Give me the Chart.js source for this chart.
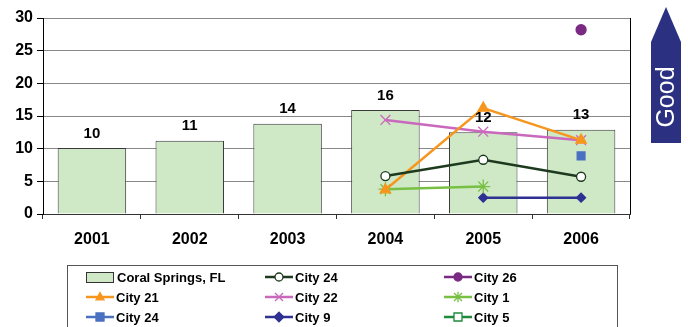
<!DOCTYPE html>
<html>
<head>
<meta charset="utf-8">
<script src="https://cdn.jsdelivr.net/npm/chart.js@4.4.0/dist/chart.umd.min.js"></script>
<style>
  html, body { margin: 0; padding: 0; background: #fff; }
  #wrap { width: 688px; height: 327px; }
</style>
</head>
<body>
<div id="wrap"><canvas id="myChart" width="688" height="327"></canvas></div>
<script>
// chart data
var years = ["2001", "2002", "2003", "2004", "2005", "2006"];
var coralSprings = [10.1, 11.2, 13.8, 15.9, 12.5, 12.9];
var coralLabels = ["10", "11", "14", "16", "12", "13"];
var city24 = [null, null, null, 5.8, 8.3, 5.7];
var city26 = [null, null, null, null, null, 28.2];
var city21 = [null, null, null, 3.7, 16.2, 11.3];
var city22 = [null, null, null, 14.4, 12.6, 11.3];
var city1 = [null, null, null, 3.8, 4.2, null];
var city24b = [null, null, null, null, null, 8.9];
var city9 = [null, null, null, null, 2.5, 2.5];
var city5 = [null, null, null, null, null, null];
var yTicks = [0, 5, 10, 15, 20, 25, 30];

var FONT = "'Liberation Sans', Arial, sans-serif";

function lineSet(label, data, color, style, radius, fill) {
  return {
    type: "line",
    label: label,
    data: data,
    borderColor: color,
    backgroundColor: color,
    borderWidth: 2.5,
    pointStyle: style,
    pointRadius: radius,
    pointBorderColor: color,
    pointBackgroundColor: fill || color,
    pointBorderWidth: 1.3,
    spanGaps: false,
    order: 1
  };
}

// small point drawer for the legend
function drawSymbol(ctx, style, x, y, r, stroke, fill) {
  ctx.save();
  ctx.strokeStyle = stroke;
  ctx.fillStyle = fill;
  ctx.lineWidth = 1.3;
  ctx.beginPath();
  if (style === "circle") {
    ctx.arc(x, y, r, 0, Math.PI * 2);
    ctx.fill(); ctx.stroke();
  } else if (style === "triangle") {
    ctx.moveTo(x, y - r * 1.1);
    ctx.lineTo(x + r, y + r * 0.7);
    ctx.lineTo(x - r, y + r * 0.7);
    ctx.closePath();
    ctx.fill(); ctx.stroke();
  } else if (style === "rect") {
    ctx.rect(x - r, y - r, r * 2, r * 2);
    ctx.fill(); ctx.stroke();
  } else if (style === "rectRot") {
    ctx.moveTo(x, y - r * 1.2);
    ctx.lineTo(x + r * 1.2, y);
    ctx.lineTo(x, y + r * 1.2);
    ctx.lineTo(x - r * 1.2, y);
    ctx.closePath();
    ctx.fill(); ctx.stroke();
  } else if (style === "crossRot") {
    ctx.moveTo(x - r, y - r); ctx.lineTo(x + r, y + r);
    ctx.moveTo(x + r, y - r); ctx.lineTo(x - r, y + r);
    ctx.stroke();
  } else if (style === "star") {
    ctx.moveTo(x - r, y - r); ctx.lineTo(x + r, y + r);
    ctx.moveTo(x + r, y - r); ctx.lineTo(x - r, y + r);
    ctx.moveTo(x, y - r * 1.3); ctx.lineTo(x, y + r * 1.3);
    ctx.stroke();
  }
  ctx.restore();
}

var extras = {
  id: "extras",
  afterDatasetsDraw: function (chart) {
    var ctx = chart.ctx;
    var area = chart.chartArea;
    // right border of plot
    ctx.save();
    ctx.strokeStyle = "#000";
    ctx.lineWidth = 1;
    ctx.beginPath();
    ctx.moveTo(Math.round(area.right) + 0.5, area.top);
    ctx.lineTo(Math.round(area.right) + 0.5, area.bottom);
    ctx.stroke();
    ctx.restore();

    // value labels above the bars
    var meta = chart.getDatasetMeta(0);
    ctx.save();
    ctx.font = "bold 15px " + FONT;
    ctx.fillStyle = "#000";
    ctx.textAlign = "center";
    ctx.textBaseline = "bottom";
    meta.data.forEach(function (bar, i) {
      ctx.fillText(coralLabels[i], bar.x, bar.y - 7);
    });
    ctx.restore();
  },
  afterDraw: function (chart) {
    var ctx = chart.ctx;
    // "Good" arrow
    ctx.save();
    ctx.fillStyle = "#2b3180";
    ctx.beginPath();
    ctx.moveTo(666, 7);
    ctx.lineTo(681, 42);
    ctx.lineTo(681, 143);
    ctx.lineTo(651, 143);
    ctx.lineTo(651, 42);
    ctx.closePath();
    ctx.fill();
    ctx.translate(667, 97);
    ctx.rotate(-Math.PI / 2);
    ctx.fillStyle = "#fff";
    ctx.font = "25px " + FONT;
    ctx.textAlign = "center";
    ctx.textBaseline = "middle";
    ctx.fillText("Good", 0, 0);
    ctx.restore();

    // legend box
    ctx.save();
    ctx.strokeStyle = "#555";
    ctx.lineWidth = 1;
    ctx.strokeRect(67.5, 265.5, 550, 70);
    ctx.font = "bold 13px " + FONT;
    ctx.fillStyle = "#000";
    ctx.textBaseline = "middle";
    var colX = [86, 265, 444];
    var rowY = [277, 297, 317];
    chart.data.datasets.forEach(function (ds, i) {
      var x = colX[i % 3];
      var y = rowY[Math.floor(i / 3)];
      if (i === 0) {
        ctx.fillStyle = ds.backgroundColor;
        ctx.fillRect(x, y - 5, 27, 10);
        ctx.strokeStyle = "#333";
        ctx.strokeRect(x + 0.5, y - 4.5, 27, 10);
      } else {
        ctx.strokeStyle = ds.borderColor;
        ctx.lineWidth = 2.5;
        ctx.beginPath();
        ctx.moveTo(x, y);
        ctx.lineTo(x + 28, y);
        ctx.stroke();
        drawSymbol(ctx, ds.pointStyle, x + 14, y, 4, ds.pointBorderColor, ds.pointBackgroundColor);
      }
      ctx.fillStyle = "#000";
      ctx.fillText(ds.label, x + (i === 0 ? 31 : 30), y + 1);
    });
    ctx.restore();
  }
};

new Chart("myChart", {
  type: "bar",
  data: {
    labels: years,
    datasets: [
      {
        label: "Coral Springs, FL",
        data: coralSprings,
        backgroundColor: "#cfe8c6",
        borderColor: "#3a3a3a",
        borderWidth: 1,
        barPercentage: 0.7,
        categoryPercentage: 1,
        order: 5
      },
      lineSet("City 24", city24, "#1d3a1e", "circle", 4.5, "#ffffff"),
      lineSet("City 26", city26, "#7a2a82", "circle", 5),
      lineSet("City 21", city21, "#f7961e", "triangle", 6),
      lineSet("City 22", city22, "#c968bd", "crossRot", 7),
      lineSet("City 1", city1, "#78c043", "star", 7),
      lineSet("City 24", city24b, "#4a70c0", "rect", 5.5),
      lineSet("City 9", city9, "#2e3192", "rectRot", 4.5),
      lineSet("City 5", city5, "#1e8a3c", "rect", 5, "#ffffff")
    ]
  },
  options: {
    responsive: false,
    animation: false,
    layout: { padding: { top: 18, right: 58, bottom: 73, left: 0 } },
    plugins: {
      legend: { display: false },
      tooltip: { enabled: false }
    },
    scales: {
      x: {
        offset: true,
        grid: { offset: true, drawOnChartArea: false, color: "#333", tickLength: 5 },
        border: { color: "#333" },
        ticks: { color: "#000", font: { family: FONT, size: 16, weight: "bold" }, padding: 11 },
        afterFit: function (s) { s.height = 40; }
      },
      y: {
        min: 0,
        max: 30,
        afterBuildTicks: function (s) { s.ticks = yTicks.map(function (v) { return { value: v }; }); },
        grid: { color: "#888", tickLength: 6, tickColor: "#000" },
        border: { color: "#000" },
        ticks: { color: "#000", font: { family: FONT, size: 16, weight: "bold" }, padding: 4 },
        afterFit: function (s) { s.width = 43; }
      }
    }
  },
  plugins: [extras]
});
</script>
</body>
</html>
